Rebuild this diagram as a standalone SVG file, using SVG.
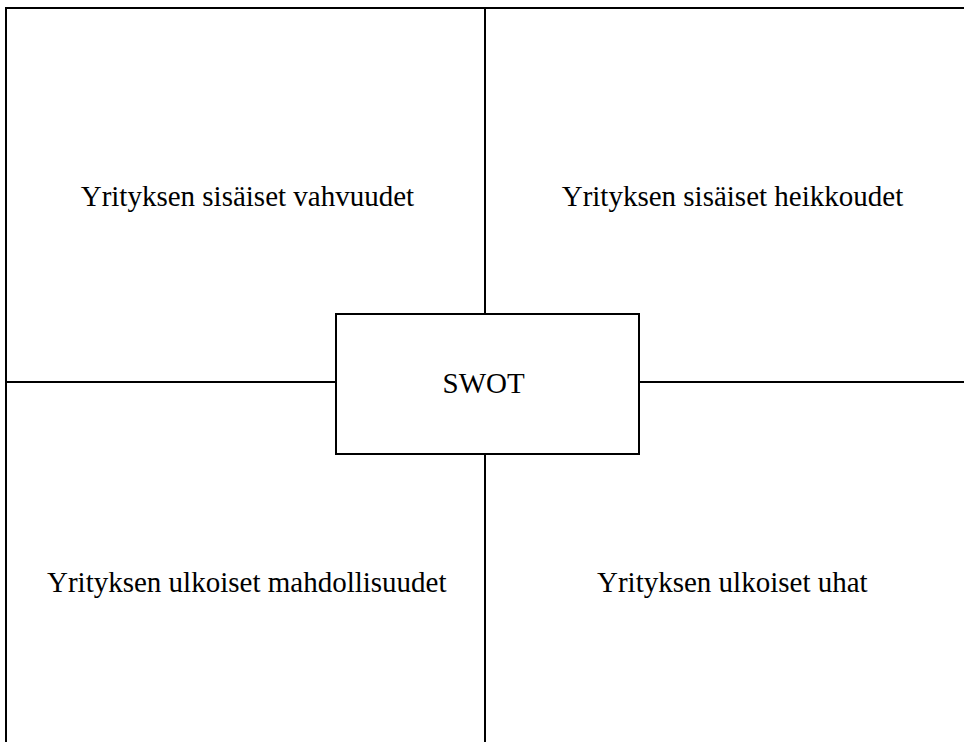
<svg xmlns="http://www.w3.org/2000/svg" width="964" height="742" viewBox="0 0 964 742">
<style>
.ln{stroke:#000;stroke-width:2;fill:none}
.box{fill:#fff;stroke:#000;stroke-width:2}
.t{font-family:"Liberation Serif","Times New Roman",serif;font-size:29px;fill:#000}
</style>
<rect width="964" height="742" fill="#fff"/>
<g id="connectors">
<path class="ln" d="M6,742 V8 H964"/>
<path class="ln" d="M485,8 V314"/>
<path class="ln" d="M485,454 V742"/>
<path class="ln" d="M6,382 H336"/>
<path class="ln" d="M639,382 H964"/>
</g>
<g id="strengths"><text class="t" x="80.7" y="206">Yrityksen sisäiset vahvuudet</text></g>
<g id="weaknesses"><text class="t" x="561.7" y="206">Yrityksen sisäiset heikkoudet</text></g>
<g id="opportunities"><text class="t" x="47" y="592">Yrityksen ulkoiset mahdollisuudet</text></g>
<g id="threats"><text class="t" x="597" y="592">Yrityksen ulkoiset uhat</text></g>
<g id="swot">
<rect class="box" x="336" y="314" width="303" height="140"/>
<text class="t" x="483.7" y="393" text-anchor="middle">SWOT</text>
</g>
</svg>
